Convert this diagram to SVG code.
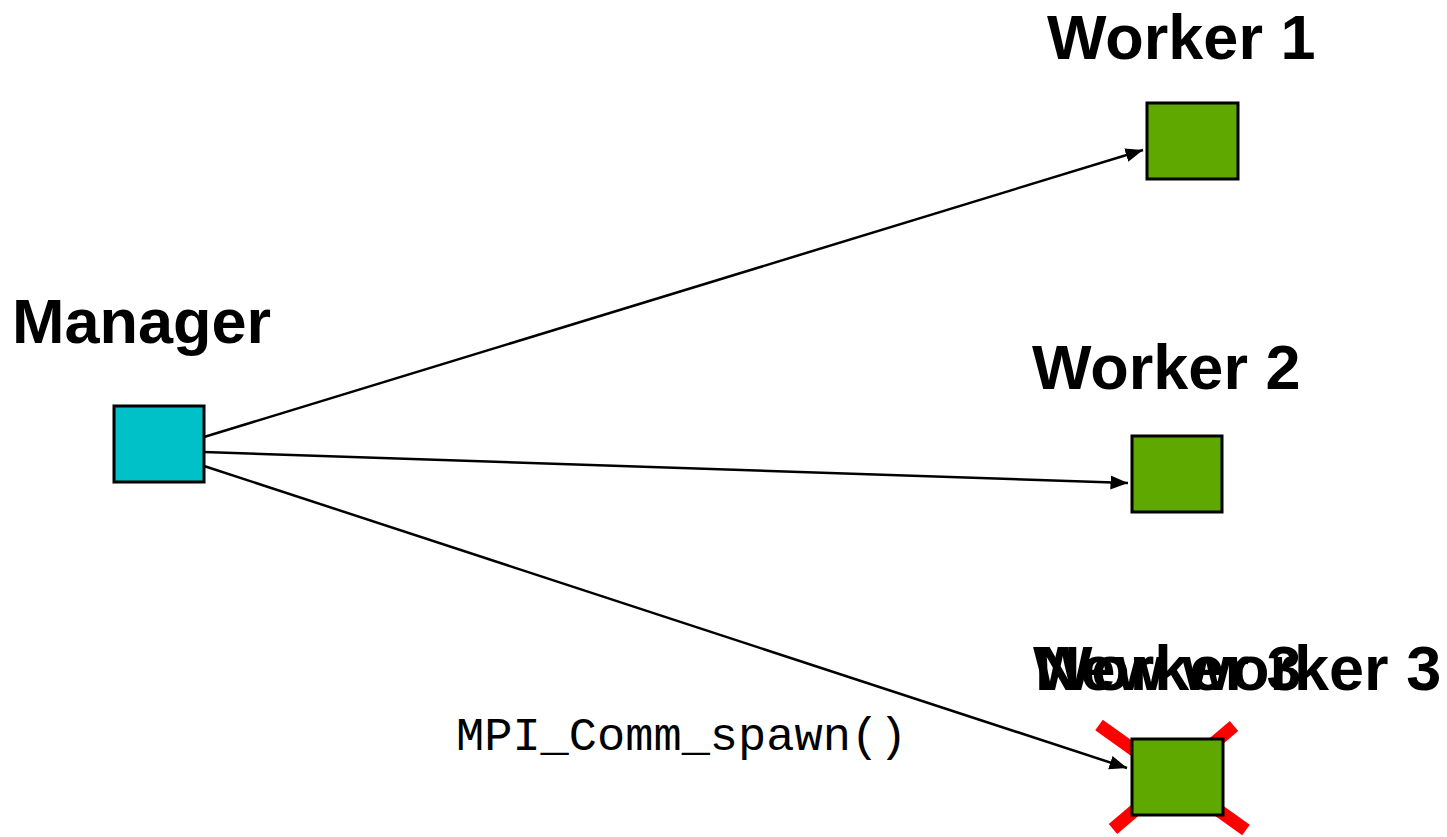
<svg xmlns="http://www.w3.org/2000/svg" width="1447" height="837" viewBox="0 0 1447 837">
<defs>
<style>
.lbl{font-family:"Liberation Sans",Arial,sans-serif;font-weight:bold;font-size:63px;fill:#000}
.code{font-family:"Liberation Mono","Courier New",monospace;font-size:47px;fill:#000}
.box{stroke:#000;stroke-width:3}
.mgr{fill:#00C0C8}
.wrk{fill:#5FA800}
.edge{stroke:#000;stroke-width:2.5;fill:none;marker-end:url(#ah)}
.cross{stroke:#FF0000;stroke-width:13;stroke-linecap:butt}
</style>
<marker id="ah" viewBox="0 0 10 10" refX="10" refY="5" markerWidth="7" markerHeight="7" markerUnits="strokeWidth" orient="auto">
<path d="M0,1 L10,5 L0,9 z" fill="#000"/>
</marker>
</defs>
<rect width="1447" height="837" fill="#fff"/>
<g id="connectors">
<line class="edge" x1="204" y1="437" x2="1143" y2="150"/>
<line class="edge" x1="204" y1="452" x2="1128" y2="483"/>
<line class="edge" x1="204" y1="466" x2="1127" y2="768"/>
</g>
<g id="manager">
<text class="lbl" x="12" y="343">Manager</text>
<rect class="box mgr" x="114" y="406" width="90" height="76"/>
</g>
<g id="worker1">
<text class="lbl" x="1047" y="59">Worker 1</text>
<rect class="box wrk" x="1147" y="103" width="91" height="76"/>
</g>
<g id="worker2">
<text class="lbl" x="1032" y="389">Worker 2</text>
<rect class="box wrk" x="1132" y="436" width="90" height="76"/>
</g>
<g id="worker3">
<line class="cross" x1="1099" y1="725" x2="1246" y2="830"/>
<line class="cross" x1="1234" y1="726" x2="1113" y2="829"/>
<text class="lbl" x="1033" y="690">Worker 3</text>
<text class="lbl" x="1035" y="690">New worker 3</text>
<rect class="box wrk" x="1132" y="739" width="91" height="76"/>
</g>
<text class="code" x="456" y="750">MPI_Comm_spawn()</text>
</svg>
